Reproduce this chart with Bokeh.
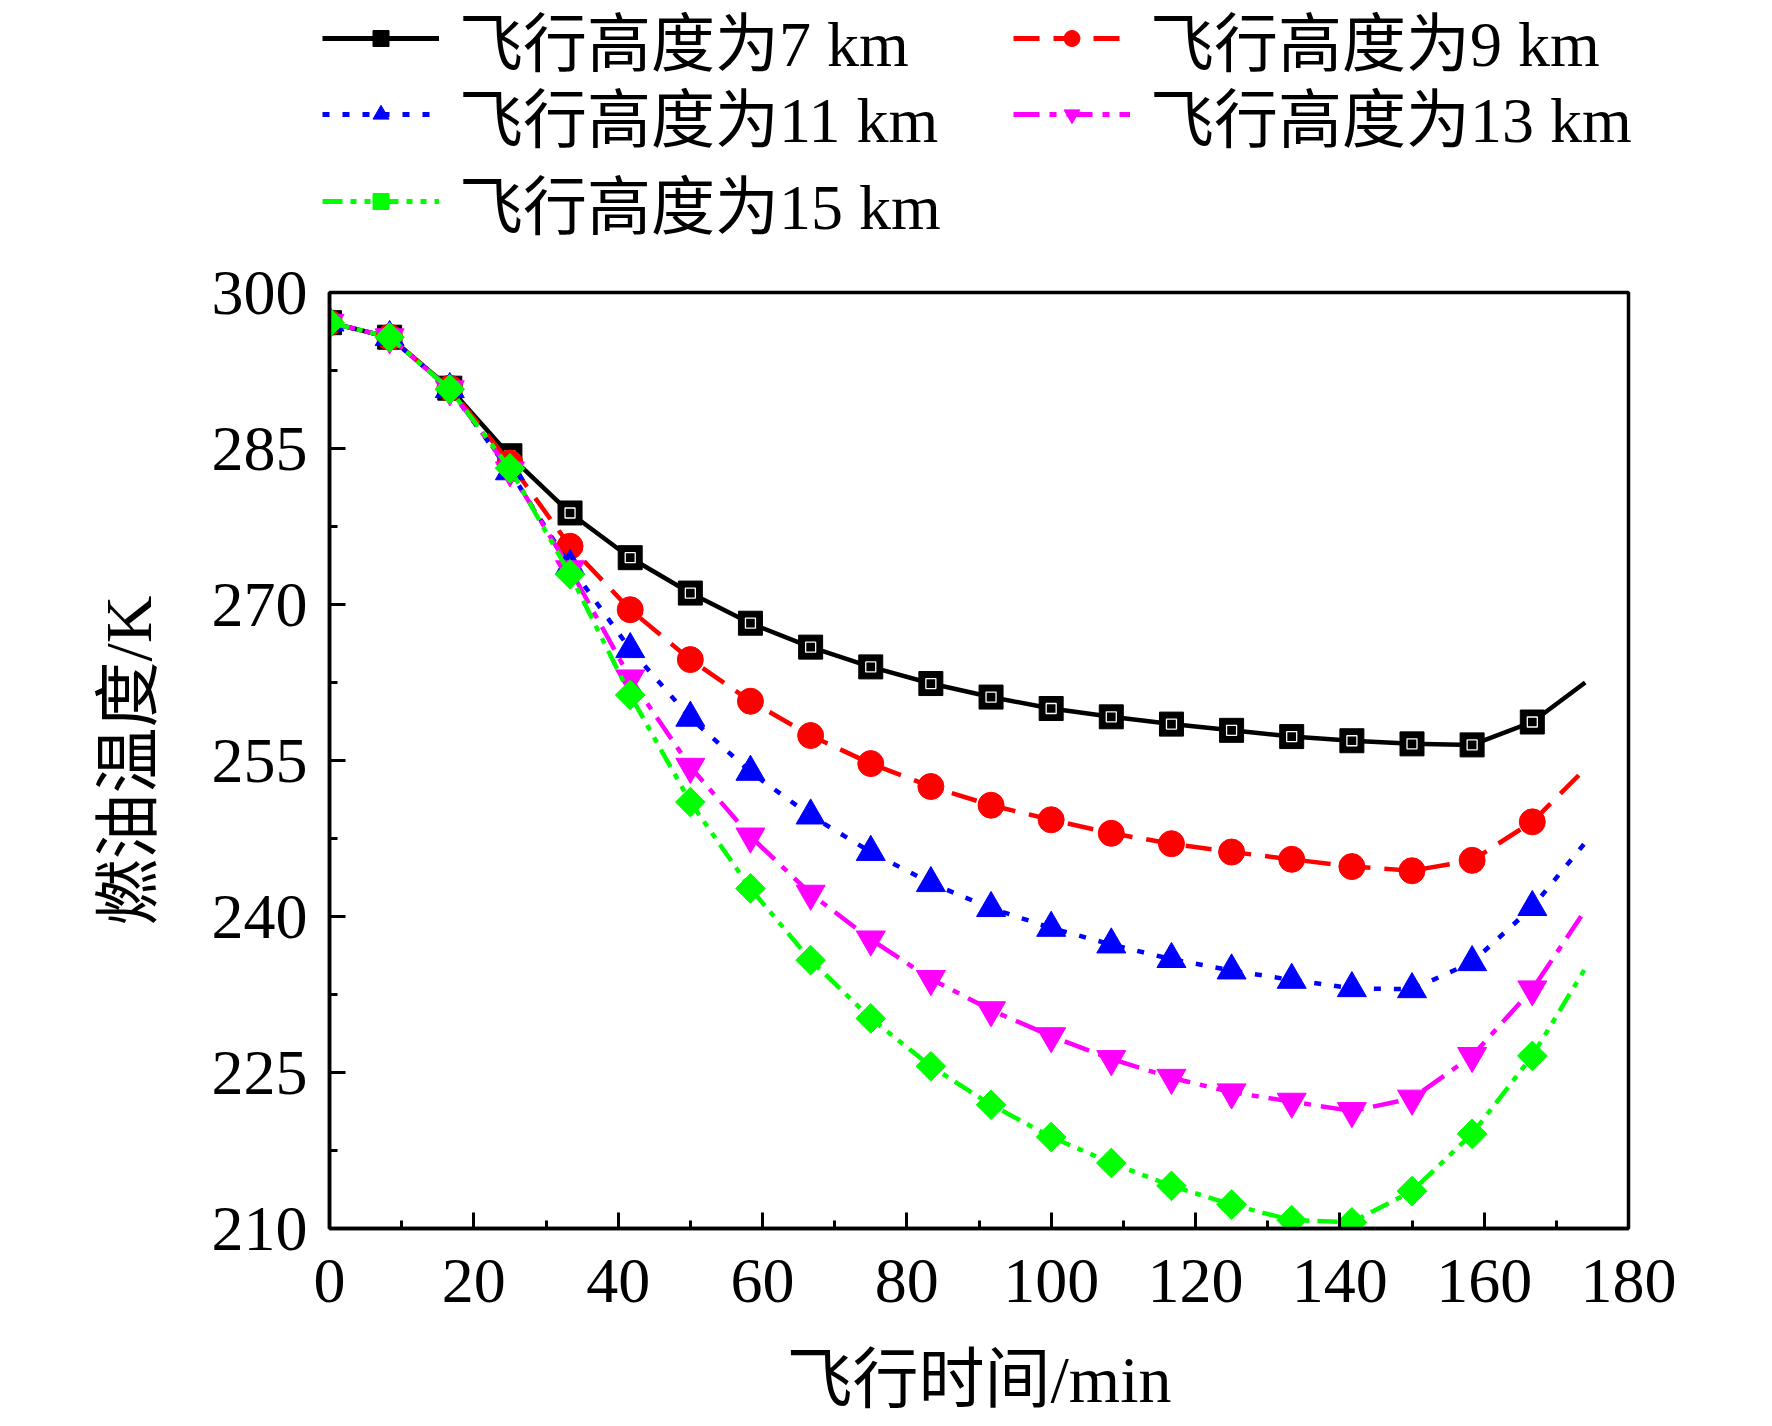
from bokeh.plotting import figure
from bokeh.models import Legend, LegendItem, SingleIntervalTicker, Range1d
from bokeh.embed import file_html
from bokeh.resources import INLINE

# ---- data ----
time_min = [0, 8.33, 16.67, 25, 33.33, 41.67, 50, 58.33, 66.67, 75, 83.33,
            91.67, 100, 108.33, 116.67, 125, 133.33, 141.67, 150, 158.33,
            166.67, 174]

temp_7km = [297.1, 295.7, 290.8, 284.3, 278.8, 274.5, 271.1, 268.2, 265.9,
            264.0, 262.4, 261.1, 260.0, 259.2, 258.5, 257.9, 257.3, 256.9,
            256.6, 256.5, 258.7, 262.5]
temp_9km = [297.1, 295.7, 290.8, 283.6, 275.6, 269.5, 264.7, 260.7, 257.4,
            254.7, 252.5, 250.7, 249.3, 248.0, 247.0, 246.2, 245.5, 244.8,
            244.4, 245.4, 249.1, 254.2]
temp_11km = [297.1, 295.7, 290.7, 282.8, 273.7, 265.7, 259.1, 253.9, 249.7,
             246.2, 243.2, 240.8, 238.9, 237.3, 235.9, 234.8, 233.9, 233.1,
             233.0, 235.6, 240.9, 247.1]
temp_13km = [297.1, 295.7, 290.7, 282.9, 273.4, 262.9, 254.4, 247.7, 242.2,
             237.8, 234.0, 231.0, 228.5, 226.3, 224.5, 223.1, 222.2, 221.3,
             222.5, 226.6, 233.0, 240.6]
temp_15km = [297.1, 295.7, 290.7, 283.1, 272.9, 261.3, 251.0, 242.7, 235.8,
             230.2, 225.6, 221.9, 218.8, 216.3, 214.1, 212.3, 210.8, 210.6,
             213.6, 219.1, 226.6, 235.0]

labels = ["飞行高度为7 km", "飞行高度为9 km", "飞行高度为11 km",
          "飞行高度为13 km", "飞行高度为15 km"]
x_label = "飞行时间/min"
y_label = "燃油温度/K"

FONT = "Liberation Serif, Noto Sans CJK SC"
FS = "64px"
FS_AX = "66px"

W = 1756
TOP_H = 248          # legend strip height
MAIN_TOP = 44        # border above the plot frame
FRAME_W, FRAME_H = 1299, 936

# ---------------- main plot ----------------
p = figure(width=W, height=MAIN_TOP + FRAME_H + 182,
           frame_width=FRAME_W, frame_height=FRAME_H,
           output_backend="svg", toolbar_location=None,
           x_range=Range1d(0, 180), y_range=Range1d(210, 300),
           min_border_left=329, min_border_top=MAIN_TOP, min_border_right=128,
           min_border_bottom=182)
p.grid.visible = False
p.background_fill_color = "white"
p.border_fill_color = "white"
p.outline_line_color = "black"
p.outline_line_width = 3.5
p.outline_line_alpha = 1

p.xaxis.ticker = SingleIntervalTicker(interval=20, num_minor_ticks=2)
p.yaxis.ticker = SingleIntervalTicker(interval=15, num_minor_ticks=2)
for ax in (p.xaxis, p.yaxis):
    ax.axis_line_width = 3.5
    ax.axis_line_color = "black"
    ax.major_tick_line_width = 3
    ax.minor_tick_line_width = 3
    ax.major_tick_in = 16
    ax.major_tick_out = 0
    ax.minor_tick_in = 8
    ax.minor_tick_out = 0
    ax.major_label_text_font = FONT
    ax.major_label_text_font_size = FS
    ax.major_label_text_color = "black"
    ax.axis_label_text_font = FONT
    ax.axis_label_text_font_size = FS_AX
    ax.axis_label_text_font_style = "normal"
    ax.axis_label_text_color = "black"
p.xaxis.axis_label = x_label
p.yaxis.axis_label = y_label
p.xaxis.major_label_standoff = 31
p.yaxis.major_label_standoff = 22
p.xaxis.axis_label_standoff = 38
p.yaxis.axis_label_standoff = 44

# (values, colour, dash, marker, plot size, legend size, angle)
series = [
    (temp_7km, "#000000", "solid", "square", 24, 23, 0.0),
    (temp_9km, "#ff0000", "26 14", "circle", 26, 21, 0.0),
    (temp_11km, "#0000ff", "7 13", "triangle", 29, 27, 0.0),
    (temp_13km, "#ff00ff", "26 10 7 10", "inverted_triangle", 29, 27, 0.0),
    (temp_15km, "#00ff00", "20 8 6 8 6 8", "square", 21, 19, 0.785398),
]

for ys, col, dash, marker, size, lsize, ang in series:
    p.line(time_min, ys, line_color=col, line_width=4.5, line_dash=dash)
    p.scatter(time_min[:-1], ys[:-1], marker=marker, size=size, angle=ang,
              fill_color=col, line_color=col, line_width=1)
    if col == "#000000":
        p.scatter(time_min[:-1], ys[:-1], marker="square", size=10,
                  fill_color=None, line_color="white", line_width=1.3)

# ---------------- legend strip (separate root, full-width frame) ----------------
lg = figure(width=W, height=TOP_H, output_backend="svg", toolbar_location=None,
            x_range=Range1d(-2, -1), y_range=Range1d(-2, -1),
            min_border_left=0, min_border_right=0, min_border_top=0,
            min_border_bottom=0)
lg.axis.visible = False
lg.grid.visible = False
lg.outline_line_color = None
lg.background_fill_color = "white"
lg.border_fill_color = "white"

# legend-only renderers (same data, but outside this strip's ranges)
items = []
for ys, col, dash, marker, size, lsize, ang in series:
    r1 = lg.line(time_min, ys, line_color=col, line_width=5, line_dash=dash)
    r2 = lg.scatter(time_min, ys, marker=marker, size=lsize, angle=ang,
                    fill_color=col, line_color=col, line_width=1)
    items.append([r1, r2])

ITEM_H = 91
col_x = [322, 1013]
row_c = [38, 114, 201]
placement = [(0, 0), (1, 0), (0, 1), (1, 1), (0, 2)]  # (column, row) per series

for i, (c, r) in enumerate(placement):
    leg = Legend(items=[LegendItem(label=labels[i], renderers=items[i])],
                 location=(col_x[c], TOP_H - row_c[r] - ITEM_H / 2),
                 orientation="vertical",
                 glyph_width=117, glyph_height=40, label_height=40,
                 label_standoff=20, spacing=0, padding=0, margin=0,
                 border_line_color=None, background_fill_alpha=0,
                 label_text_font=FONT, label_text_font_size=FS,
                 label_text_color="black")
    lg.add_layout(leg, "center")

open("out.html", "w").write(file_html([lg, p], INLINE))
